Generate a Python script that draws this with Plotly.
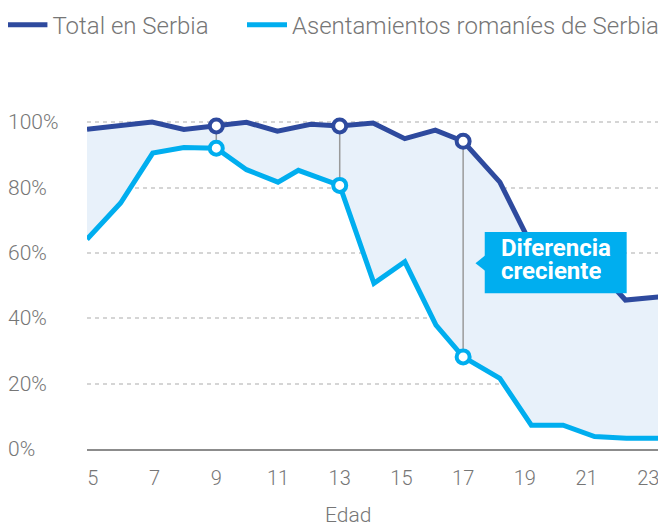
import plotly.graph_objects as go

# ---- data ----
ages_total = [4.81, 5.90, 6.92, 7.95, 9.0, 9.98, 10.98, 12.06, 13.0, 14.08,
              15.11, 16.10, 17.0, 18.19, 19.21, 20.24, 21.26, 22.26, 23.37]
total = [97.9, 99.2, 100.1, 97.8, 98.9, 100.0, 97.3, 99.4, 98.9, 99.8,
         95.0, 97.6, 94.2, 81.7, 62.4, 59.0, 56.0, 45.6, 46.6]

ages_roma = [4.81, 5.90, 6.94, 7.95, 9.0, 9.98, 11.0, 11.66, 13.0, 14.11,
             15.11, 16.12, 17.0, 18.19, 19.21, 20.24, 21.26, 22.29, 23.32]
roma = [64.2, 75.3, 90.6, 92.3, 92.1, 85.5, 81.7, 85.3, 80.7, 50.7,
        57.3, 37.9, 28.2, 21.6, 7.3, 7.3, 3.8, 3.3, 3.3]

highlight_ages = [9, 13, 17]
x_ticks = [5, 7, 9, 11, 13, 15, 17, 19, 21, 23]
y_ticks = [0, 20, 40, 60, 80, 100]
y_labels = ["0%", "20%", "40%", "60%", "80%", "100%"]
name_total = "Total en Serbia"
name_roma = "Asentamientos romaníes de Serbia"
callout_lines = ["Diferencia", "creciente"]
x_title = "Edad"

DARK = "#2E4A9E"
LIGHT = "#00AEEF"
FILL = "#E8F1FA"
GREY_TXT = "#767676"
FONT = "Roboto"

hi_total = [total[ages_total.index(a)] for a in highlight_ages]
hi_roma = [roma[ages_roma.index(a)] for a in highlight_ages]

fig = go.Figure()

# fill between the two series
fig.add_trace(go.Scatter(x=ages_total, y=total, mode="lines",
                         line=dict(width=0, color=FILL), showlegend=False,
                         hoverinfo="skip"))
fig.add_trace(go.Scatter(x=ages_roma, y=roma, mode="lines", fill="tonexty",
                         fillcolor=FILL, line=dict(width=0, color=FILL),
                         showlegend=False, hoverinfo="skip"))

# vertical connectors
cx, cy = [], []
for a, t, r in zip(highlight_ages, hi_total, hi_roma):
    cx += [a, a, None]
    cy += [t, r, None]
fig.add_trace(go.Scatter(x=cx, y=cy, mode="lines",
                         line=dict(color="#9A9A9A", width=1.5),
                         showlegend=False, hoverinfo="skip"))

# lines
fig.add_trace(go.Scatter(x=ages_total, y=total, mode="lines", name=name_total,
                         line=dict(color=DARK, width=5), legend="legend"))
fig.add_trace(go.Scatter(x=ages_roma, y=roma, mode="lines", name=name_roma,
                         line=dict(color=LIGHT, width=5), legend="legend2"))

# highlighted markers
fig.add_trace(go.Scatter(x=highlight_ages, y=hi_total, mode="markers",
                         marker=dict(symbol="circle", size=13, color="white",
                                     line=dict(color=DARK, width=4)),
                         showlegend=False, cliponaxis=False))
fig.add_trace(go.Scatter(x=highlight_ages, y=hi_roma, mode="markers",
                         marker=dict(symbol="circle", size=13, color="white",
                                     line=dict(color=LIGHT, width=4)),
                         showlegend=False, cliponaxis=False))

# callout box
fig.add_shape(type="rect", xref="x", yref="y", x0=17.70, x1=22.30, y0=47.7, y1=66.4,
              fillcolor=LIGHT, line=dict(width=0), layer="above")
fig.add_shape(type="path", xref="x", yref="y",
              path="M 17.71 59.2 L 17.40 56.9 L 17.71 54.6 Z",
              fillcolor=LIGHT, line=dict(width=0), layer="above")
fig.add_annotation(x=18.16, y=61.6, xref="x", yref="y", text="<b>%s</b>" % callout_lines[0],
                   showarrow=False, xanchor="left", yanchor="middle", height=22,
                   font=dict(family=FONT, size=24, color="white"))
fig.add_annotation(x=18.16, y=54.5, xref="x", yref="y", text="<b>%s</b>" % callout_lines[1],
                   showarrow=False, xanchor="left", yanchor="middle", height=22,
                   font=dict(family=FONT, size=24, color="white"))

# y tick labels (left aligned)
for v, lab in zip(y_ticks, y_labels):
    fig.add_annotation(x=-0.1405, y=v, xref="paper", yref="y", text=lab,
                       showarrow=False, xanchor="left", yanchor="middle",
                       font=dict(family=FONT, size=21, color=GREY_TXT, weight=300))

# x title
fig.add_annotation(x=0.4555, y=-0.193, xref="paper", yref="paper", text=x_title,
                   showarrow=False, xanchor="center", yanchor="middle",
                   font=dict(family=FONT, size=21, color=GREY_TXT, weight=300))

legend_common = dict(orientation="h", yanchor="middle", y=1.236, xanchor="left",
                     itemwidth=40, bgcolor="rgba(0,0,0,0)",
                     font=dict(family=FONT, size=24, color=GREY_TXT, weight=300))

# the page body adds an 8px offset, so the figure is 8px smaller than the window
fig.update_layout(
    width=658, height=519,
    margin=dict(l=79, r=6, t=98, b=78, autoexpand=False),
    plot_bgcolor="white", paper_bgcolor="white",
    font=dict(family=FONT, size=20, color=GREY_TXT, weight=300),
    showlegend=True,
    legend=dict(x=-0.1476, **legend_common),
    legend2=dict(x=0.2705, **legend_common),
    xaxis=dict(range=[4.81, 23.38], tickvals=x_ticks, showgrid=False, zeroline=False,
               showline=True, linecolor="#8C8C8C", linewidth=2, ticks="",
               tickfont=dict(family=FONT, size=20, color=GREY_TXT, weight=300),
               ticklabelstandoff=10),
    yaxis=dict(range=[0, 105], tickvals=y_ticks, showticklabels=False,
               showgrid=True, gridcolor="#D5D5D5", gridwidth=1.5, griddash="4px,4px",
               zeroline=False, showline=False, ticks=""),
)

fig.write_html("out.html")
